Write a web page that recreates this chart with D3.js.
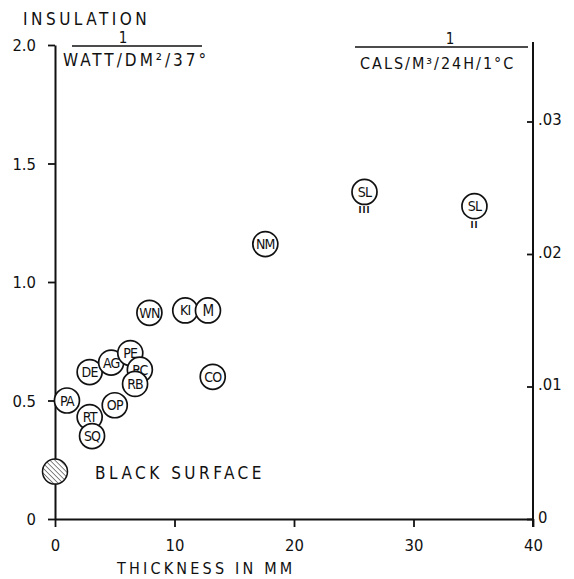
<!DOCTYPE html>
<html><head><meta charset="utf-8">
<script src="https://cdn.jsdelivr.net/npm/d3@7"></script>
<style>
html,body{margin:0;padding:0;background:#fff;}
svg text{font-family:"DejaVu Sans Condensed","Liberation Sans Narrow","DejaVu Sans",sans-serif;fill:#111;}
</style></head>
<body><svg id="c" width="574" height="579"></svg>
<script>
// ---- data ----
const labels     = ["PA","RT","SQ","DE","AG","PE","RC","RB","OP","WN","KI","M","CO","NM","SL","SL"];
const thickness  = [1.0, 2.9, 3.1, 2.9, 4.7, 6.3, 7.1, 6.7, 5.0, 7.9, 10.9, 12.8, 13.2, 17.6, 25.9, 35.1];
const insulation = [0.50,0.43,0.35,0.62,0.66,0.70,0.63,0.57,0.48,0.87,0.88, 0.88, 0.60, 1.16, 1.38, 1.32];
const subMarks   = ["","","","","","","","","","","","","","","III","II"];
const blackLabel = ["BLACK SURFACE"];
const blackThickness = [0];
const blackInsulation = [0.2];
const xTicks = [0,10,20,30,40];
const yTicks = [0,0.5,1.0,1.5,2.0];
const y2Ticks = [0,0.01,0.02,0.03];

const svg = d3.select("#c");
svg.append("rect").attr("width",574).attr("height",579).attr("fill","#fff");

const x = d3.scaleLinear().domain([0,40]).range([55,533]);
const y = d3.scaleLinear().domain([0,2]).range([519,45]);
const y2 = d3.scaleLinear().domain([0,0.036]).range([519,42]);

const fs = 16.5;
// bottom axis
const gx = svg.append("g").attr("transform",`translate(0,${y(0)})`)
  .call(d3.axisBottom(x).tickValues(xTicks).tickSizeInner(8).tickSizeOuter(0).tickPadding(12).tickFormat(d3.format("d")));
// left axis
const gy = svg.append("g").attr("transform",`translate(${x(0)},0)`)
  .call(d3.axisLeft(y).tickValues(yTicks).tickSizeInner(7).tickSizeOuter(0).tickPadding(12)
    .tickFormat(d => d===0 ? "0" : d3.format(".1f")(d)));
// right axis
const gy2 = svg.append("g").attr("transform",`translate(${x(40)},0)`)
  .call(d3.axisRight(y2).tickValues(y2Ticks).tickSizeInner(-6).tickSizeOuter(0).tickPadding(5)
    .tickFormat(d => d===0 ? "0" : d3.format(".2f")(d).slice(1)));
[gx,gy,gy2].forEach(g=>{
  g.selectAll("path.domain").attr("stroke","#111").attr("stroke-width",2);
  g.selectAll(".tick line").attr("stroke","#111").attr("stroke-width",1.8);
  g.selectAll(".tick text").attr("font-size",fs).attr("fill","#111")
   .style("font-family",'"DejaVu Sans Condensed","Liberation Sans Narrow","DejaVu Sans",sans-serif');
});
gy2.select("path.domain").attr("d",`M0,${y2(0)+8}V${y2.range()[1]}`);
gy.selectAll(".tick text").attr("dy","0.35em");
gy2.selectAll(".tick text").attr("dy","0.2em");

// titles
svg.append("text").attr("x",23).attr("y",25).attr("font-size",17).attr("letter-spacing",3.5).text("INSULATION");
// left fraction
svg.append("line").attr("x1",72).attr("x2",202).attr("y1",46).attr("y2",46).attr("stroke","#111").attr("stroke-width",1.5);
svg.append("text").attr("x",123).attr("y",43).attr("font-size",15).attr("text-anchor","middle").text("1");
svg.append("text").attr("x",63).attr("y",66).attr("font-size",17).attr("letter-spacing",3).text("WATT/DM²/37°");
// right fraction
svg.append("line").attr("x1",355).attr("x2",528).attr("y1",47).attr("y2",47).attr("stroke","#111").attr("stroke-width",1.5);
svg.append("text").attr("x",450).attr("y",44).attr("font-size",15).attr("text-anchor","middle").text("1");
svg.append("text").attr("x",360).attr("y",69).attr("font-size",16).attr("letter-spacing",2).text("CALS/M³/24H/1°C");
// x title
svg.append("text").attr("x",117).attr("y",574).attr("font-size",16).attr("letter-spacing",3.2).text("THICKNESS IN MM");

// hatch pattern
const defs = svg.append("defs");
const pat = defs.append("pattern").attr("id","hatch").attr("patternUnits","userSpaceOnUse")
  .attr("width",3.5).attr("height",3.5).attr("patternTransform","rotate(-45)");
pat.append("rect").attr("width",3.5).attr("height",3.5).attr("fill","#fff");
pat.append("line").attr("x1",0).attr("y1",0).attr("x2",0).attr("y2",3.5).attr("stroke","#222").attr("stroke-width",1.1);

const R = 12.5;
// black surface
svg.selectAll("circle.black").data(blackThickness).join("circle").attr("class","black")
  .attr("cx",(d)=>x(d)).attr("cy",(d,i)=>y(blackInsulation[i])).attr("r",R)
  .attr("fill","url(#hatch)").attr("stroke","#111").attr("stroke-width",1.5);
svg.selectAll("text.black").data(blackLabel).join("text").attr("class","black")
  .attr("x",(d,i)=>x(blackThickness[i])+40).attr("y",(d,i)=>y(blackInsulation[i])+7)
  .attr("font-size",17).attr("letter-spacing",3.5).text(d=>d);

// labelled points
const pts = labels.map((l,i)=>({l, t:thickness[i], v:insulation[i], m:subMarks[i]}));
const g = svg.selectAll("g.pt").data(pts).join("g").attr("class","pt")
  .attr("transform",d=>`translate(${x(d.t)},${y(d.v)})`);
g.append("circle").attr("r",R).attr("fill","#fff").attr("stroke","#111").attr("stroke-width",1.7);
g.append("text").attr("text-anchor","middle").attr("dy","0.36em").attr("font-size",d=>d.l.length>1?14:15)
  .attr("letter-spacing",-0.8).text(d=>d.l);
g.append("text").attr("text-anchor","middle").attr("y",R+9).attr("font-size",9).attr("font-weight","bold")
  .attr("letter-spacing",1).text(d=>d.m);
</script></body></html>
